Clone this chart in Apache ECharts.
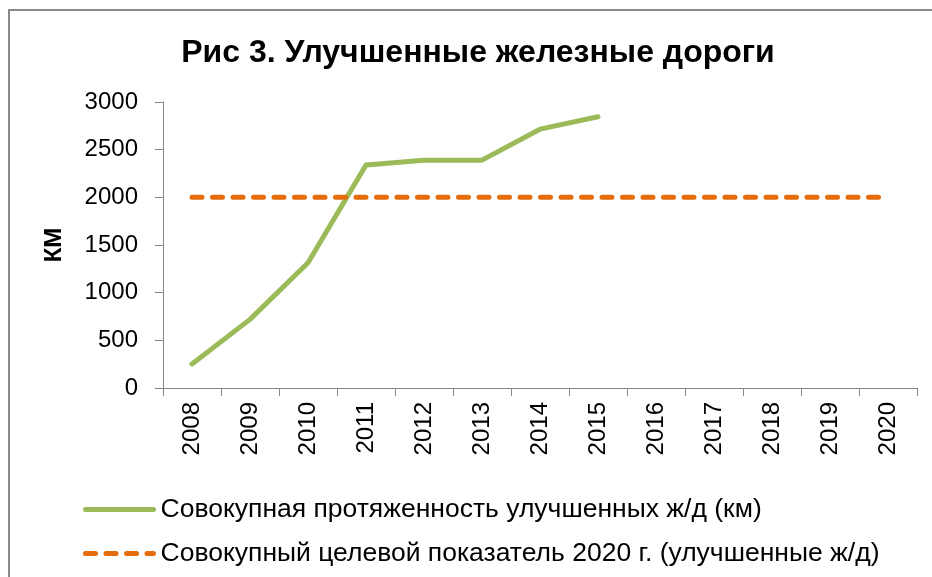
<!DOCTYPE html>
<html>
<head>
<meta charset="utf-8">
<script src="https://cdn.jsdelivr.net/npm/echarts@6/dist/echarts.min.js"></script>
<style>
  html, body { margin: 0; padding: 0; background: #fff; }
  #chart { width: 932px; height: 577px; }
</style>
</head>
<body>
<div id="chart"></div>
<script>
const years = ["2008", "2009", "2010", "2011", "2012", "2013", "2014", "2015", "2016", "2017", "2018", "2019", "2020"];
const improvedKm = [252, 720, 1314, 2340, 2388, 2390, 2715, 2846, null, null, null, null, null];
const target2020 = [2000, 2000, 2000, 2000, 2000, 2000, 2000, 2000, 2000, 2000, 2000, 2000, 2000];
const seriesNames = [
  "Совокупная протяженность улучшенных ж/д (км)",
  "Совокупный целевой показатель 2020 г. (улучшенные ж/д)",
];

const font = "'Liberation Sans', Arial, sans-serif";
const chart = echarts.init(document.getElementById("chart"), null, { renderer: "canvas" });

chart.setOption({
  animation: false,
  textStyle: { fontFamily: font },
  graphic: [
    {
      type: "rect",
      shape: { x: 9, y: 10, width: 1000, height: 1000 },
      style: { fill: "none", stroke: "#8a8a8a", lineWidth: 2 },
      silent: true,
    },
  ],
  title: {
    text: "Рис 3. Улучшенные железные дороги",
    left: 473,
    textAlign: "center",
    top: 32,
    textStyle: { fontFamily: font, fontSize: 32, fontWeight: "bold", color: "#000" },
  },
  legend: {
    orient: "vertical",
    left: 78,
    top: 491,
    itemWidth: 68,
    itemHeight: 6,
    itemGap: 17,
    itemStyle: { opacity: 0 },
    lineStyle: { width: 5, cap: "round" },
    textStyle: { fontFamily: font, fontSize: 26.5, color: "#000", padding: [0, 0, 0, 2] },
    data: seriesNames,
  },
  grid: { left: 163, right: 15, top: 102, bottom: 189 },
  xAxis: {
    type: "category",
    data: years,
    boundaryGap: true,
    axisLine: { lineStyle: { color: "#868686", width: 1 } },
    axisTick: { show: true, length: 8, lineStyle: { color: "#868686" } },
    axisLabel: { rotate: 90, fontSize: 24, color: "#000", margin: 14, fontFamily: font },
    splitLine: { show: false },
  },
  yAxis: {
    type: "value",
    min: 0,
    max: 3000,
    interval: 500,
    name: "КМ",
    nameLocation: "middle",
    nameRotate: 90,
    nameGap: 97,
    nameTextStyle: { fontFamily: font, fontSize: 24, fontWeight: "bold", color: "#000" },
    axisLine: { show: true, lineStyle: { color: "#868686", width: 1 } },
    axisTick: { show: true, length: 8, lineStyle: { color: "#868686" } },
    axisLabel: { fontSize: 24, color: "#000", margin: 25, fontFamily: font, formatter: (v) => String(v) },
    splitLine: { show: false },
  },
  series: [
    {
      name: seriesNames[0],
      type: "line",
      data: improvedKm,
      symbol: "none",
      lineStyle: { color: "#9bbb59", width: 5, cap: "round", join: "round" },
      itemStyle: { color: "#9bbb59" },
    },
    {
      name: seriesNames[1],
      type: "line",
      data: target2020,
      symbol: "none",
      lineStyle: { color: "#e46c0a", width: 5, type: [10, 10.5], cap: "round" },
      itemStyle: { color: "#e46c0a" },
    },
  ],
});
</script>
</body>
</html>
